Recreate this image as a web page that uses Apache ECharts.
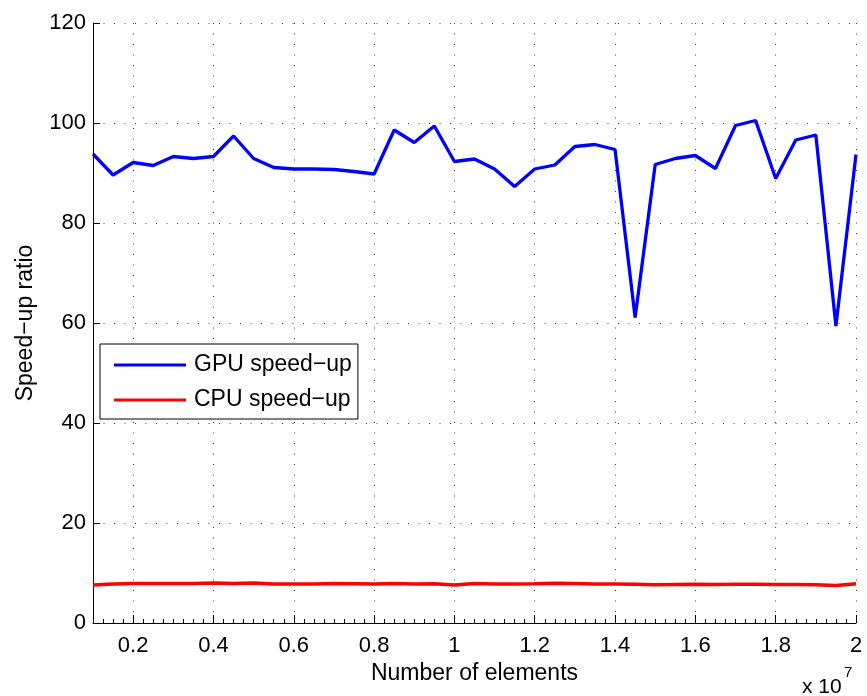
<!DOCTYPE html>
<html>
<head>
<meta charset="utf-8">
<script src="https://cdn.jsdelivr.net/npm/echarts@6/dist/echarts.min.js"></script>
<style>
  html, body { margin: 0; padding: 0; background: #fff; }
  #container { width: 867px; height: 696px; }
</style>
</head>
<body>
<div id="container"></div>
<script>
// number of elements, in units of 1e7
const elements = [0.1, 0.15, 0.2, 0.25, 0.3, 0.35, 0.4, 0.45, 0.5, 0.55, 0.6, 0.65, 0.7, 0.75, 0.8, 0.85, 0.9, 0.95, 1.0,
  1.05, 1.1, 1.15, 1.2, 1.25, 1.3, 1.35, 1.4, 1.45, 1.5, 1.55, 1.6, 1.65, 1.7, 1.75, 1.8, 1.85, 1.9, 1.95, 2.0];

const gpuSpeedup = [93.8, 89.6, 92.1, 91.5, 93.3, 92.9, 93.3, 97.4, 92.9, 91.1, 90.8, 90.8, 90.7, 90.3, 89.8, 98.6, 96.1, 99.4, 92.3,
  92.8, 90.8, 87.3, 90.8, 91.6, 95.3, 95.7, 94.7, 61.1, 91.7, 92.9, 93.5, 90.9, 99.5, 100.5, 88.9, 96.6, 97.6, 59.4, 93.7];

const cpuSpeedup = [7.6, 7.8, 7.9, 7.9, 7.9, 7.9, 8.0, 7.9, 8.0, 7.8, 7.8, 7.8, 7.9, 7.85, 7.8, 7.9, 7.8, 7.85, 7.6,
  7.9, 7.8, 7.8, 7.85, 7.95, 7.9, 7.8, 7.8, 7.75, 7.65, 7.7, 7.75, 7.7, 7.75, 7.75, 7.7, 7.7, 7.65, 7.5, 7.85];

const xTicks = [0.2, 0.4, 0.6, 0.8, 1, 1.2, 1.4, 1.6, 1.8, 2];

const FONT = 'Liberation Sans';

const pairs = (xs, ys) => xs.map((x, i) => [x, ys[i]]);

// minor ticks along the bottom axis
const minorTicks = [];
for (let k = 4; k <= 80; k++) minorTicks.push(+(k * 0.025).toFixed(3));

const dotted = { color: '#444', width: 1, type: [1, 9.5] };

const myChart = echarts.init(document.getElementById('container'));
myChart.setOption({
  animation: false,
  backgroundColor: '#fff',
  textStyle: { fontFamily: FONT },
  grid: { left: 93, right: 11, top: 23, bottom: 73 },
  legend: {
    orient: 'vertical',
    left: 100,
    top: 344,
    padding: [9, 6, 7, 14],
    itemGap: 11,
    itemWidth: 72,
    itemHeight: 3,
    icon: 'rect',
    borderColor: '#000',
    borderWidth: 1,
    borderRadius: 0,
    backgroundColor: '#fff',
    textStyle: { fontFamily: FONT, fontSize: 23, color: '#000', lineHeight: 24, padding: [0, 0, 0, 3] },
    data: ['GPU speed−up', 'CPU speed−up']
  },
  xAxis: [
    {
      type: 'value',
      min: 0.1,
      max: 2,
      name: 'Number of elements',
      nameLocation: 'middle',
      nameGap: 35,
      nameTextStyle: { fontFamily: FONT, fontSize: 23, color: '#000' },
      axisLine: { show: true, onZero: false, lineStyle: { color: '#000', width: 1 } },
      axisTick: { show: true, inside: true, length: 8, customValues: xTicks, lineStyle: { color: '#000' } },
      axisLabel: { customValues: xTicks, fontFamily: FONT, fontSize: 22, color: '#000', margin: 12 },
      splitLine: { show: true, lineStyle: dotted }
    },
    {
      type: 'value',
      min: 0.1,
      max: 2,
      position: 'bottom',
      axisLine: { show: false },
      axisLabel: { show: false },
      splitLine: { show: false },
      axisTick: { show: true, inside: true, length: 4, customValues: minorTicks, lineStyle: { color: '#000' } }
    }
  ],
  yAxis: {
    type: 'value',
    min: 0,
    max: 120,
    interval: 20,
    name: 'Speed−up ratio',
    nameLocation: 'middle',
    nameGap: 56,
    nameTextStyle: { fontFamily: FONT, fontSize: 23, color: '#000' },
    axisLine: { show: true, lineStyle: { color: '#000', width: 1 } },
    axisTick: { show: true, inside: true, length: 7, lineStyle: { color: '#000' } },
    axisLabel: { fontFamily: FONT, fontSize: 22, color: '#000', margin: 7 },
    splitLine: { show: true, lineStyle: dotted }
  },
  graphic: [
    { type: 'text', left: 802, top: 677, style: { text: 'x 10', fontFamily: FONT, fontSize: 21, fill: '#000' } },
    { type: 'text', left: 844, top: 665, style: { text: '7', fontFamily: FONT, fontSize: 15, fill: '#000' } }
  ],
  series: [
    {
      name: 'GPU speed−up',
      type: 'line',
      data: pairs(elements, gpuSpeedup),
      showSymbol: false,
      color: '#0000ff',
      lineStyle: { color: '#0000ff', width: 3.3 }
    },
    {
      name: 'CPU speed−up',
      type: 'line',
      data: pairs(elements, cpuSpeedup),
      showSymbol: false,
      color: '#ff0000',
      lineStyle: { color: '#ff0000', width: 3.3 }
    }
  ]
});
</script>
</body>
</html>
